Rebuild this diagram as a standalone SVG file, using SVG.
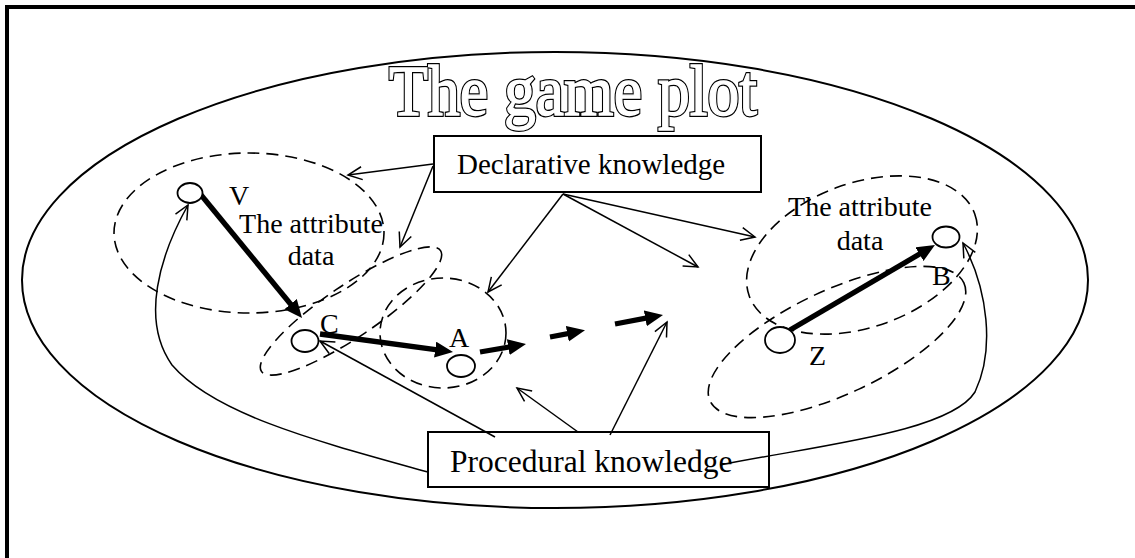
<svg xmlns="http://www.w3.org/2000/svg" width="1135" height="558" viewBox="0 0 1135 558">
<defs>
<style>
.thin{fill:none;stroke:#000;stroke-width:1.5}
.thick{fill:none;stroke:#000;stroke-width:5.3}
.dash{fill:none;stroke:#000;stroke-width:1.6;stroke-dasharray:12,7}
.node{fill:#fff;stroke:#000;stroke-width:1.8}
.box{fill:#fff;stroke:#000;stroke-width:2}
.lbl{font-family:"Liberation Serif","Times New Roman",serif;font-size:28px;fill:#000}
.boxt{font-family:"Liberation Serif","Times New Roman",serif;fill:#000}
.title{font-family:"Liberation Serif","Times New Roman",serif;font-size:72px}
</style>
<marker id="open" markerWidth="18" markerHeight="16" refX="15" refY="8" orient="auto" markerUnits="userSpaceOnUse"><path d="M1,1.5 L15,8 L1,14.5" fill="none" stroke="#000" stroke-width="1.5"/></marker>
<marker id="solid" markerWidth="20" markerHeight="18" refX="6" refY="8" orient="auto" markerUnits="userSpaceOnUse"><path d="M0,0 L18,8 L0,16 z" fill="#000"/></marker>
</defs>
<rect width="1135" height="558" fill="#fff"/>
<path d="M7,558 V7 H1135" fill="none" stroke="#000" stroke-width="4"/>
<g id="plot">
<ellipse cx="555" cy="280" rx="533" ry="228" fill="none" stroke="#000" stroke-width="2"/>
</g>
<g id="title">
<text class="title" x="389" y="115" textLength="368" lengthAdjust="spacingAndGlyphs" fill="#fff" stroke="#000" stroke-width="3.8">The game plot</text>
<text class="title" x="389" y="115" textLength="368" lengthAdjust="spacingAndGlyphs" fill="#fff" stroke="#fff" stroke-width="1.3">The game plot</text>
</g>
<g id="region-v">
<ellipse class="dash" cx="249" cy="233" rx="135" ry="80"/>
</g>
<g id="region-c">
<ellipse class="dash" cx="351" cy="311" rx="108" ry="26" transform="rotate(-34 351 311)"/>
</g>
<g id="region-a">
<ellipse class="dash" cx="443" cy="333" rx="63" ry="55"/>
</g>
<g id="region-b">
<ellipse class="dash" cx="862" cy="255" rx="120" ry="72" transform="rotate(-20 862 255)"/>
</g>
<g id="region-z">
<ellipse class="dash" cx="837" cy="342" rx="140" ry="52" transform="rotate(-25 837 342)"/>
</g>
<g id="attr-left">
<text class="lbl" x="311" y="233" text-anchor="middle">The attribute</text>
<text class="lbl" x="311" y="265" text-anchor="middle">data</text>
</g>
<g id="attr-right">
<text class="lbl" x="860" y="216" text-anchor="middle">The attribute</text>
<text class="lbl" x="860" y="250" text-anchor="middle">data</text>
</g>
<g id="declarative">
<rect class="box" x="434" y="136" width="327" height="56"/>
<text class="boxt" x="457" y="174" font-size="29">Declarative knowledge</text>
</g>
<g id="procedural">
<rect class="box" x="428" y="432" width="341" height="55"/>
<text class="boxt" x="450" y="472" font-size="31.5">Procedural knowledge</text>
</g>
<g id="connectors">
<line class="thick" x1="197" y1="190" x2="294.4" y2="308.7" marker-end="url(#solid)"/>
<line class="thick" x1="320" y1="334" x2="441.1" y2="350.4" marker-end="url(#solid)"/>
<line class="thick" x1="480" y1="352" x2="514.2" y2="346.1" marker-end="url(#solid)"/>
<line class="thick" x1="550" y1="337" x2="573.2" y2="332.6" marker-end="url(#solid)"/>
<line class="thick" x1="615" y1="324" x2="651.2" y2="317.2" marker-end="url(#solid)"/>
<line class="thick" x1="790" y1="330" x2="924.6" y2="251.1" marker-end="url(#solid)"/>
<line class="thin" x1="433" y1="164" x2="348" y2="175" marker-end="url(#open)"/>
<line class="thin" x1="433" y1="166" x2="400" y2="247" marker-end="url(#open)"/>
<line class="thin" x1="563" y1="194" x2="488" y2="292" marker-end="url(#open)"/>
<line class="thin" x1="563" y1="194" x2="698" y2="267" marker-end="url(#open)"/>
<line class="thin" x1="563" y1="194" x2="755" y2="237" marker-end="url(#open)"/>
<line class="thin" x1="495" y1="437" x2="320" y2="341" marker-end="url(#open)"/>
<line class="thin" x1="578" y1="432" x2="517" y2="388" marker-end="url(#open)"/>
<line class="thin" x1="610" y1="435" x2="667" y2="322" marker-end="url(#open)"/>
<path class="thin" d="M428,472 C320,442 215,415 172,365 C140,320 160,255 188,205" marker-end="url(#open)"/>
<path class="thin" d="M720,465 C820,445 950,432 975,392 C995,350 988,290 963,243" marker-end="url(#open)"/>
</g>
<g id="node-v">
<ellipse class="node" cx="190" cy="193" rx="12.5" ry="10"/>
<text class="lbl" x="229" y="205">V</text>
</g>
<g id="node-c">
<ellipse class="node" cx="305" cy="341" rx="13.5" ry="11"/>
<text class="lbl" x="320" y="333">C</text>
</g>
<g id="node-a">
<ellipse class="node" cx="461" cy="366" rx="14" ry="11"/>
<text class="lbl" x="449" y="347">A</text>
</g>
<g id="node-z">
<ellipse class="node" cx="780" cy="340" rx="15" ry="13"/>
<text class="lbl" x="809" y="365">Z</text>
</g>
<g id="node-b">
<ellipse class="node" cx="946" cy="237" rx="13.5" ry="10.5"/>
<text class="lbl" x="932" y="285">B</text>
</g>
</svg>
